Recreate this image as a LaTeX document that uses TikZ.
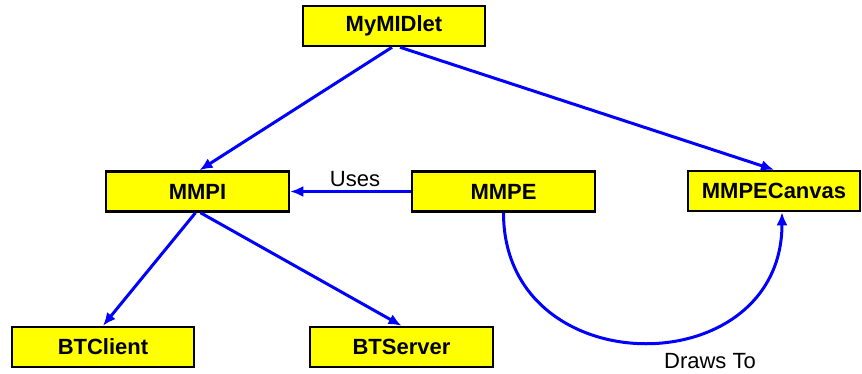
\documentclass[tikz,border=0pt]{standalone}
\usepackage{fontspec}
\setmainfont{Liberation Sans}
\usetikzlibrary{arrows.meta}
\definecolor{boxyellow}{RGB}{255,255,0}
\definecolor{arrowblue}{RGB}{0,0,255}
\begin{document}
\begin{tikzpicture}[x=1pt,y=-1pt,
  cls/.style={draw=black,line width=2.5pt,fill=boxyellow,minimum height=40pt,
    inner sep=0pt,font=\fontsize{22}{24}\selectfont\bfseries},
  conn/.style={draw=arrowblue,line width=3pt,-{Latex[length=13pt,width=11pt]}},
  lbl/.style={font=\fontsize{22}{24}\selectfont,inner sep=0pt}]
\useasboundingbox (0,0) rectangle (862,373);
\node[cls,minimum width=182pt] (midlet) at (394,26) {MyMIDlet};
\node[cls,minimum width=183pt] (mmpi) at (197.5,191.5) {MMPI};
\node[cls,minimum width=183pt] (mmpe) at (503.5,191.5) {MMPE};
\node[cls,minimum width=172pt] (canvas) at (774,191) {MMPECanvas};
\node[cls,minimum width=182pt] (client) at (103,347) {BTClient};
\node[cls,minimum width=183pt] (server) at (401.5,347) {BTServer};
\draw[conn] ([xshift=-2pt]midlet.south) -- ([xshift=2pt]mmpi.north);
\draw[conn] ([xshift=6pt]midlet.south) -- (canvas.north);
\draw[conn] (mmpe.west) -- (mmpi.east);
\draw[conn] ([xshift=-2pt]mmpi.south) -- (client.north);
\draw[conn] ([xshift=3pt]mmpi.south) -- (server.north);
\draw[conn] (mmpe.south) .. controls +(0,173) and +(0,173) .. ([xshift=8pt]canvas.south);
\node[lbl] (uses) at (355,179) {Uses};
\node[lbl] (draws) at (710,361) {Draws To};
\end{tikzpicture}
\end{document}
